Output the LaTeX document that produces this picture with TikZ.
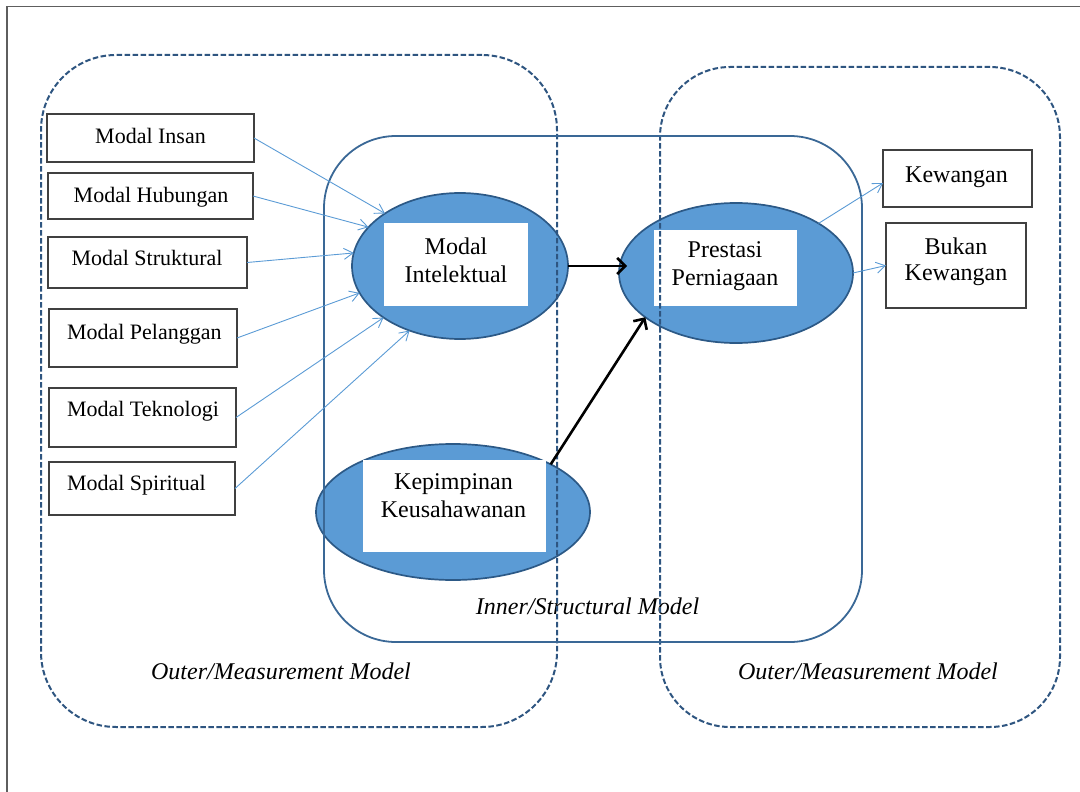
\documentclass[tikz,border=0pt]{standalone}
\usepackage{fontspec}
\setmainfont{Liberation Serif}
\usetikzlibrary{shapes.geometric,arrows.meta}
\definecolor{frameg}{HTML}{5E5E5E}
\definecolor{dashc}{HTML}{2E5580}
\definecolor{innerc}{HTML}{3A6896}
\definecolor{ellfill}{HTML}{5B9BD5}
\definecolor{elldraw}{HTML}{2C5986}
\definecolor{lightarr}{HTML}{5B9BD5}
\definecolor{boxc}{HTML}{404040}
\begin{document}
\begin{tikzpicture}[x=1pt,y=-1pt,
  every node/.style={inner sep=0pt,outer sep=0pt},
  outerbox/.style={draw=dashc,line width=2pt,dash pattern=on 5.5pt off 2.5pt,rectangle},
  innerbox/.style={draw=innerc,line width=1.8pt,rectangle},
  lat/.style={ellipse,draw=elldraw,fill=ellfill,line width=1.7pt},
  wlab/.style={rectangle,fill=white},
  ltxt/.style={align=center,font=\fontsize{24}{28}\selectfont},
  ind/.style={rectangle,draw=boxc,line width=1.3pt,fill=white},
  itxt/.style={font=\fontsize{22}{26}\selectfont,anchor=base},
  rtxt/.style={align=center,font=\fontsize{24}{26}\selectfont},
  captxt/.style={font=\fontsize{24}{28}\selectfont\itshape,anchor=base},
  larr/.style={draw=lightarr,line width=0.9pt,-{Straight Barb[length=9pt,width=11pt,line width=0.9pt]}},
  barr/.style={draw=black,line width=2.6pt,-{Straight Barb[length=8pt,width=16pt,line width=2.6pt]}}
]
\useasboundingbox (0,0) rectangle (1080,792);
% page frame
\draw[frameg,line width=1.6pt] (7,792) -- (7,6.5) -- (1080,6.5);

% latent variables
\node[lat,minimum width=216pt,minimum height=146pt] (mi) at (460,266) {};
\node[wlab,minimum width=144pt,minimum height=83pt] (miw) at (456,264.5) {};
\node[ltxt] (mit) at (456,260) {Modal\\Intelektual};

\node[lat,minimum width=234pt,minimum height=140pt] (pp) at (736,273) {};
\node[wlab,minimum width=143pt,minimum height=76pt] (ppw) at (725.5,268) {};
\node[ltxt] (ppt) at (725,266) {Prestasi\\Perniagaan};

\node[lat,minimum width=274pt,minimum height=136pt] (kk) at (453,512) {};
\node[wlab,minimum width=183pt,minimum height=92pt] (kkw) at (454.5,506) {};
\node[ltxt] (kkt) at (453.5,496) {Kepimpinan\\Keusahawanan};

% model captions
\node[captxt] (cin) at (587.5,614) {Inner/Structural Model};
\node[captxt] (cl) at (281,679) {Outer/Measurement Model};
\node[captxt] (cr) at (868,679) {Outer/Measurement Model};

% containers
\node[outerbox,rounded corners=75pt,minimum width=516pt,minimum height=672pt] (outL) at (299,391) {};
\node[outerbox,rounded corners=70pt,minimum width=400pt,minimum height=660pt] (outR) at (860,397) {};
\node[innerbox,rounded corners=72pt,minimum width=538pt,minimum height=506pt] (inn) at (593,389) {};

% indicators (left)
\node[ind,minimum width=207pt,minimum height=48pt] (ins) at (150.5,138) {};
\node[itxt] at (150.5,143.5) {Modal Insan};
\node[ind,minimum width=205pt,minimum height=46pt] (hub) at (150.5,196) {};
\node[itxt] at (151,202) {Modal Hubungan};
\node[ind,minimum width=199pt,minimum height=51pt] (str) at (147.5,262.5) {};
\node[itxt] at (147,265.7) {Modal Struktural};
\node[ind,minimum width=188pt,minimum height=58pt] (pel) at (143,338) {};
\node[itxt,anchor=base west] at (67,339) {Modal Pelanggan};
\node[ind,minimum width=187pt,minimum height=59pt] (tek) at (142.5,417.5) {};
\node[itxt,anchor=base west] at (67,416.7) {Modal Teknologi};
\node[ind,minimum width=186pt,minimum height=53pt] (spi) at (142,488.5) {};
\node[itxt,anchor=base west] at (67,490.7) {Modal Spiritual};

% indicators (right)
\node[ind,minimum width=149pt,minimum height=57pt] (kew) at (957.5,178.5) {};
\node[itxt,font=\fontsize{24}{28}\selectfont] at (956.5,182.5) {Kewangan};
\node[ind,minimum width=140pt,minimum height=85pt] (buk) at (956,265.5) {};
\node[rtxt] at (956,262) {Bukan\\Kewangan};

% measurement arrows
\draw[larr] (ins.east) -- (mi.145.5);
\draw[larr] (hub.east) -- (mi.157.6);
\draw[larr] (str.east) -- (mi.173);
\draw[larr] (pel.east) -- (mi.195.4);
\draw[larr] (tek.east) -- (mi.214);
\draw[larr] (spi.east) -- (mi.232.7);
\draw[larr] (pp.31) -- ([yshift=-4.5pt]kew.west);
\draw[larr] (pp.east) -- (buk.west);

% structural arrows
\draw[barr] (mi.east) -- ([xshift=8pt]mi.east -| pp.west);
\draw[barr] (kk.26) -- (pp.206);
\end{tikzpicture}
\end{document}
